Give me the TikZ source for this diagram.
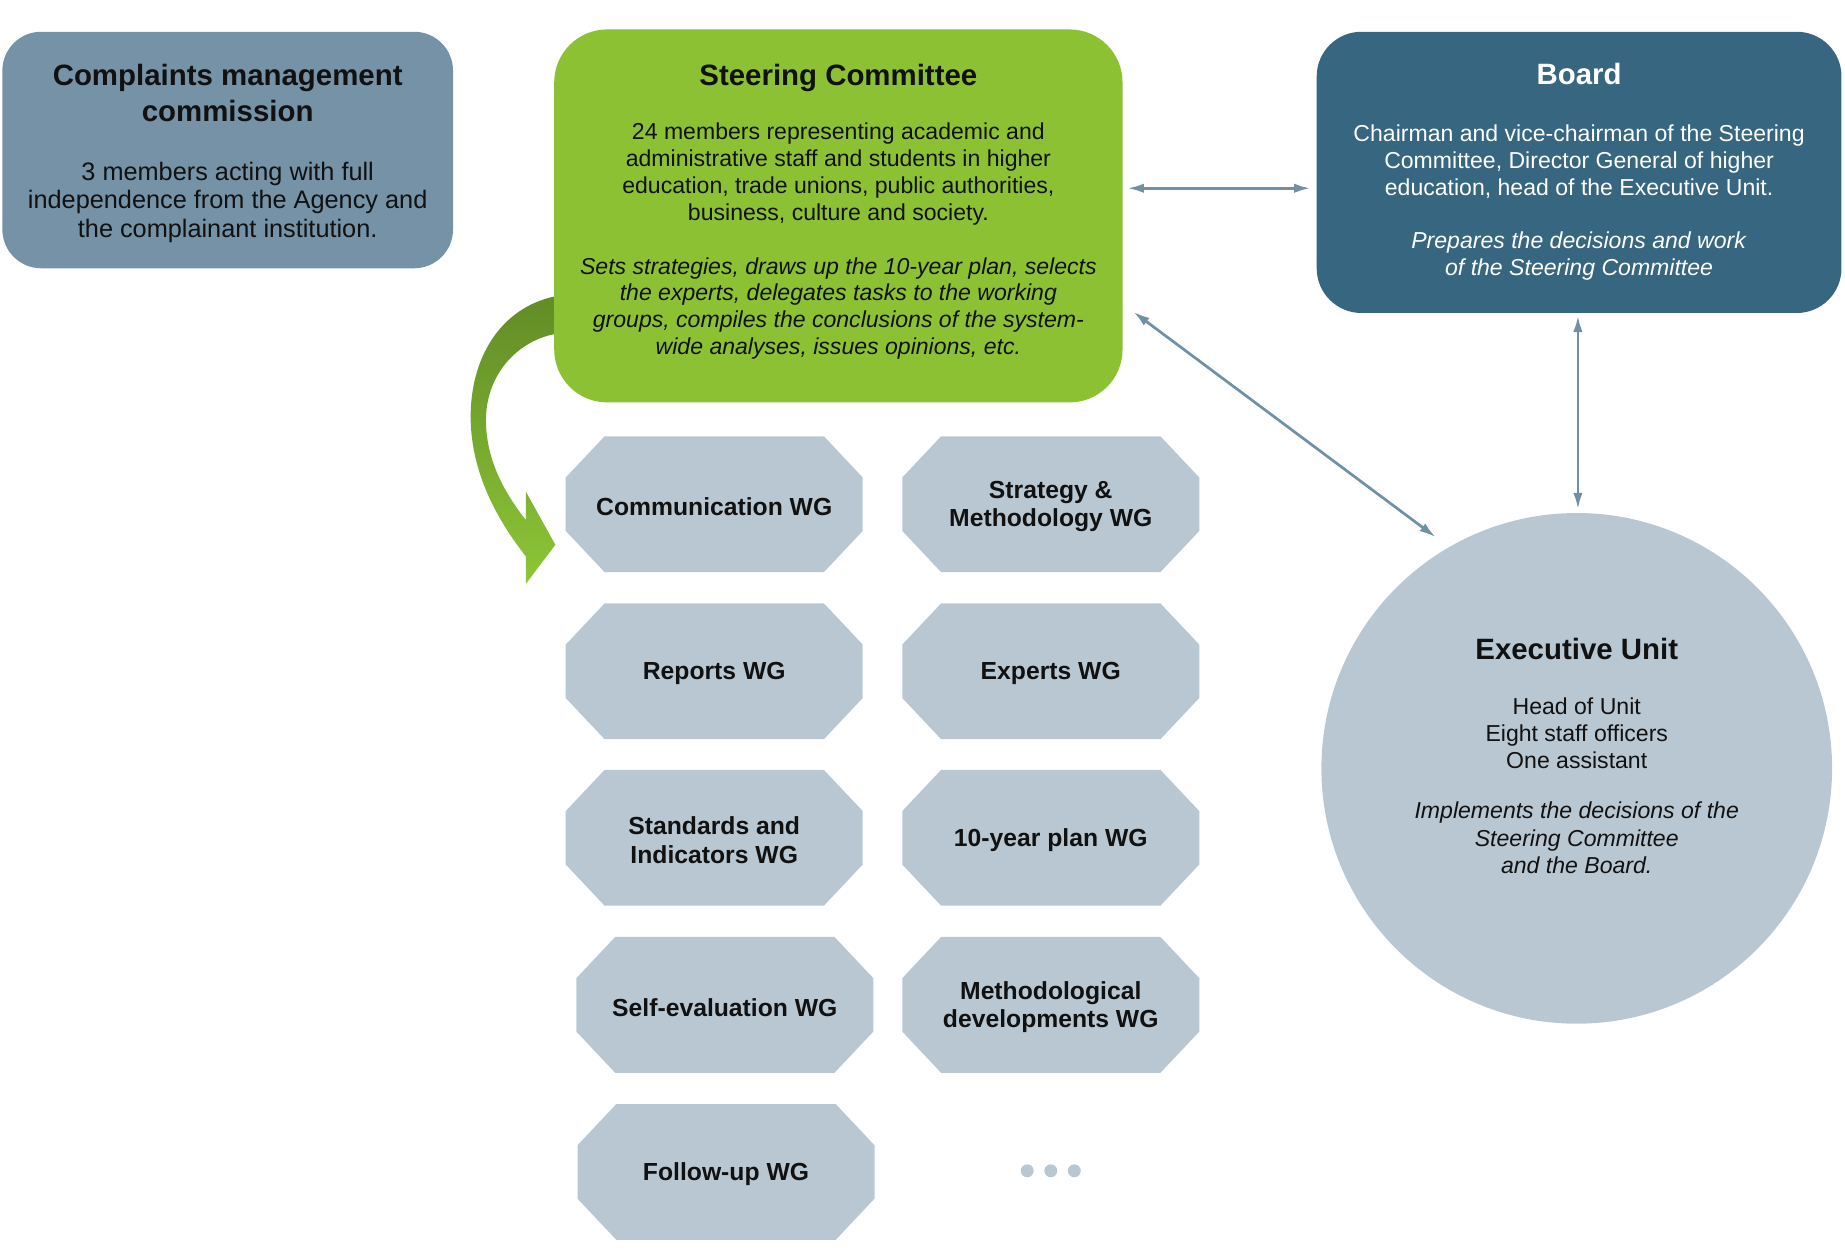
\documentclass[tikz,border=0pt]{standalone}
\usepackage{fontspec}
\setmainfont{Liberation Sans}
\usetikzlibrary{arrows.meta}
\definecolor{cmgray}{RGB}{117,146,167}
\definecolor{scgreen}{RGB}{141,193,52}
\definecolor{bdblue}{RGB}{54,102,128}
\definecolor{wggray}{RGB}{185,199,211}
\definecolor{conncol}{RGB}{112,144,166}
\definecolor{arrdark}{RGB}{98,140,38}
\definecolor{arrlight}{RGB}{141,198,55}
\definecolor{txt}{RGB}{17,17,17}
\pgfdeclarelayer{background}
\pgfsetlayers{background,main}
% #1 name, #2 x, #3 y, #4 text
\newcommand{\wgbox}[4]{%
  \node[wgtext] (#1) at (#2,#3+2) {#4};
  \begin{pgfonlayer}{background}
    \fill[wggray] ([xshift=33pt,yshift=2pt]#1.north west) -- ([xshift=-33pt,yshift=2pt]#1.north east)
      -- ([yshift=-33pt]#1.north east) -- ([yshift=37pt]#1.south east)
      -- ([xshift=-33pt,yshift=2pt]#1.south east) -- ([xshift=33pt,yshift=2pt]#1.south west)
      -- ([yshift=37pt]#1.south west) -- ([yshift=-33pt]#1.north west) -- cycle;
  \end{pgfonlayer}}
\begin{document}
\begin{tikzpicture}[x=1pt,y=-1pt,
  ttl/.style={font=\bfseries\fontsize{25}{30}\selectfont, align=center, inner sep=0pt, text=txt},
  bodytxt/.style={font=\fontsize{19.6}{22.7}\selectfont, align=center, inner sep=0pt, text=txt},
  cmbody/.style={font=\fontsize{21.5}{24.5}\selectfont, align=center, inner sep=0pt, text=txt},
  wgtext/.style={font=\bfseries\fontsize{21}{24}\selectfont, align=center, inner sep=0pt, text=txt,
    minimum width=252pt, minimum height=115pt},
  conn/.style={draw=conncol, line width=2.3pt, {Latex[length=14pt,width=8pt]}-{Latex[length=14pt,width=8pt]}},
  dot/.style={circle, fill=wggray, minimum size=11pt, inner sep=0pt}
]
\useasboundingbox (0,0) rectangle (1568,1062);

% green curved arrow
\shade[top color=arrdark, bottom color=arrlight]
 (490,252) -- (471,252)
 .. controls (425,262) and (399,305) .. (400,357)
 .. controls (401,405) and (425,445) .. (447,473)
 -- (447,496) -- (472,463) -- (447,418) -- (447,442)
 .. controls (428,418) and (413,390) .. (413,357)
 .. controls (413,318) and (440,290) .. (471,284)
 -- (490,284) -- cycle;

% boxes
\node[fill=cmgray, rounded corners=33pt, minimum width=383pt, minimum height=201pt, inner sep=0pt] (cm) at (193.5,127.5) {};
\node[fill=scgreen, rounded corners=45pt, minimum width=483pt, minimum height=317pt, inner sep=0pt] (sc) at (712.5,183.5) {};
\node[fill=bdblue, rounded corners=38pt, minimum width=446pt, minimum height=239pt, inner sep=0pt] (board) at (1342,146.5) {};
\node[circle, fill=wggray, minimum size=434pt, inner sep=0pt] (exec) at (1340,653) {};

% texts
\node[ttl] (cmt) at (193.5,79) {Complaints management\\commission};
\node[cmbody] (cmb) at (193.5,172) {3 members acting with full\\independence from the Agency and\\the complainant institution.};

\node[ttl] (sct) at (712.5,66) {Steering Committee};
\node[bodytxt] (scb) at (712.5,205) {24 members representing academic and\\administrative staff and students in higher\\education, trade unions, public authorities,\\business, culture and society.\\[23.3pt]
\textit{Sets strategies, draws up the 10-year plan, selects}\\\textit{the experts, delegates tasks to the working}\\\textit{groups, compiles the conclusions of the system-}\\\textit{wide analyses, issues opinions, etc.}};

\node[ttl, text=white] (bdt) at (1342,62.5) {Board};
\node[bodytxt, text=white, font=\fontsize{19.6}{23}\selectfont] (bdb) at (1342,172) {Chairman and vice-chairman of the Steering\\Committee, Director General of higher\\education, head of the Executive Unit.\\[22pt]
\textit{Prepares the decisions and work}\\\textit{of the Steering Committee}};

\node[ttl] (ext) at (1340,551.5) {Executive Unit};
\node[bodytxt, font=\fontsize{19.6}{23}\selectfont] (exb) at (1340,667.5) {Head of Unit\\Eight staff officers\\One assistant\\[20pt]
\textit{Implements the decisions of the}\\\textit{Steering Committee}\\\textit{and the Board.}};

% working groups
\wgbox{wg1}{607}{428.5}{Communication WG}
\wgbox{wg2}{893}{428.5}{Strategy \&\\Methodology WG}
\wgbox{wg3}{607}{570.5}{Reports WG}
\wgbox{wg4}{893}{570.5}{Experts WG}
\wgbox{wg5}{607}{712}{Standards and\\Indicators WG}
\wgbox{wg6}{893}{712}{10-year plan WG}
\wgbox{wg7}{616}{854}{Self-evaluation WG}
\wgbox{wg8}{893}{854}{Methodological\\developments WG}
\wgbox{wg9}{617}{996}{Follow-up WG}

\node[dot] (d1) at (873,995) {};
\node[dot] (d2) at (893,995) {};
\node[dot] (d3) at (913,995) {};

% connectors
\draw[conn] ([xshift=4pt,yshift=23.5pt]sc.east) -- ([xshift=-5pt,yshift=-13.5pt]board.west);
\draw[conn, shorten >=14pt] ([xshift=9pt,yshift=-81.5pt]sc.east) -- (exec.120.5);
\draw[conn] ([xshift=-1pt,yshift=-2pt]board.south) -- ([xshift=1pt,yshift=3pt]exec.north);
\end{tikzpicture}
\end{document}
